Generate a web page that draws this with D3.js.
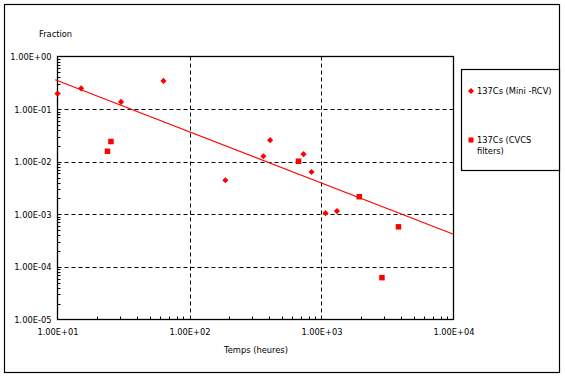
<!DOCTYPE html>
<html><head><meta charset="utf-8">
<script src="https://cdn.jsdelivr.net/npm/d3@7"></script>
<style>body{margin:0;background:#fff;} text{font-family:"DejaVu Sans",Arial,sans-serif;}</style>
</head><body><svg id="c" width="565" height="377"></svg>
<script>
// Data
const miniRcvX = [10, 15.1, 30.3, 63.5, 187, 363, 408, 731, 840, 1072, 1309];
const miniRcvY = [0.197, 0.248, 0.137, 0.344, 0.00443, 0.0127, 0.0257, 0.0139, 0.00638, 0.00105, 0.00115];
const cvcsX = [23.9, 25.4, 670, 1932, 3828, 2870];
const cvcsY = [0.0158, 0.0242, 0.0102, 0.00216, 0.000578, 0.0000625];
const trendX = [9.6, 10000];
const trendY = [0.36, 0.000419];
const xTicks = [10, 100, 1000, 10000];
const yTicks = [1, 0.1, 0.01, 0.001, 0.0001, 0.00001];
const xTickLabels = ["1.00E+01", "1.00E+02", "1.00E+03", "1.00E+04"];
const yTickLabels = ["1.00E+00", "1.00E-01", "1.00E-02", "1.00E-03", "1.00E-04", "1.00E-05"];
const seriesNames = ["137Cs (Mini -RCV)", "137Cs (CVCS", "filters)"];

const svg = d3.select("#c");
const L = 57.5, R = 453.5, T = 56.5, B = 319.5;
const x = d3.scaleLog().domain([10, 10000]).range([L, R]);
const y = d3.scaleLog().domain([0.00001, 1]).range([B, T]);
const red = "#ff0000";
const fs = "8.3px";

// outer frame
svg.append("rect").attr("x", 4.5).attr("y", 4.5).attr("width", 555).attr("height", 368)
  .attr("fill", "none").attr("stroke", "#000").attr("stroke-width", 1.2);

// grid
const g = svg.append("g");
g.selectAll("line.h").data(yTicks.slice(1, 5)).enter().append("line")
  .attr("x1", L).attr("x2", R).attr("y1", d => Math.round(y(d)) + 0.5).attr("y2", d => Math.round(y(d)) + 0.5)
  .attr("stroke", "#000").attr("stroke-dasharray", "4,3");
g.selectAll("line.v").data(xTicks.slice(1, 3)).enter().append("line")
  .attr("y1", T).attr("y2", B).attr("x1", d => Math.round(x(d)) + 0.5).attr("x2", d => Math.round(x(d)) + 0.5)
  .attr("stroke", "#000").attr("stroke-dasharray", "4,3");

// plot frame
svg.append("rect").attr("x", L).attr("y", T).attr("width", R - L).attr("height", B - T)
  .attr("fill", "none").attr("stroke", "#000").attr("stroke-width", 1.3);

// axes
const minorX = [];
for (let d = 10; d < 10000; d *= 10) for (let k = 2; k <= 9; k++) minorX.push(d * k);
const minorY = [];
for (let d = 0.00001; d < 0.9; d *= 10) for (let k = 2; k <= 9; k++) minorY.push(d * k);

const xAxis = d3.axisBottom(x).tickValues(xTicks).tickSize(0).tickFormat((d, i) => xTickLabels[i]);
const xa = svg.append("g").attr("transform", `translate(0,${B})`).call(xAxis);
xa.select(".domain").remove();
xa.selectAll("text").attr("dy", 0).attr("y", 15).attr("font-size", fs).attr("fill", "#000");
svg.append("g").selectAll("line").data(minorX).enter().append("line")
  .attr("x1", d => Math.round(x(d)) + 0.5).attr("x2", d => Math.round(x(d)) + 0.5)
  .attr("y1", B).attr("y2", B - 3).attr("stroke", "#000");

const yAxis = d3.axisLeft(y).tickValues(yTicks).tickSize(0).tickFormat((d, i) => yTickLabels[i]);
const ya = svg.append("g").attr("transform", `translate(${L},0)`).call(yAxis);
ya.select(".domain").remove();
ya.selectAll("text").attr("x", -6).attr("dy", "0.35em").attr("font-size", fs).attr("fill", "#000");
svg.append("g").selectAll("line").data(minorY).enter().append("line")
  .attr("y1", d => Math.round(y(d)) + 0.5).attr("y2", d => Math.round(y(d)) + 0.5)
  .attr("x1", L).attr("x2", L + 3).attr("stroke", "#000");

// trend line
const line = d3.line().x(d => x(d[0])).y(d => y(d[1]));
svg.append("path").datum(trendX.map((v, i) => [v, trendY[i]])).attr("d", line)
  .attr("fill", "none").attr("stroke", red).attr("stroke-width", 1.1);

// markers
const diamond = d3.symbol().type(d3.symbolDiamond2).size(24);
svg.append("g").selectAll("path").data(miniRcvX.map((v, i) => [v, miniRcvY[i]])).enter().append("path")
  .attr("d", diamond).attr("transform", d => `translate(${x(d[0])},${y(d[1])})`).attr("fill", red);
svg.append("g").selectAll("rect").data(cvcsX.map((v, i) => [v, cvcsY[i]])).enter().append("rect")
  .attr("x", d => x(d[0]) - 2.75).attr("y", d => y(d[1]) - 2.75).attr("width", 5.5).attr("height", 5.5).attr("fill", red);

// titles
svg.append("text").attr("x", 39).attr("y", 37).attr("font-size", fs).text("Fraction");
svg.append("text").attr("x", 256).attr("y", 353).attr("text-anchor", "middle").attr("font-size", fs).text("Temps (heures)");

// legend
svg.append("rect").attr("x", 461.5).attr("y", 69.5).attr("width", 98).attr("height", 101)
  .attr("fill", "#fff").attr("stroke", "#000").attr("stroke-width", 1.2);
svg.append("path").attr("d", diamond).attr("transform", "translate(471,91)").attr("fill", red);
svg.append("rect").attr("x", 468.5).attr("y", 137.5).attr("width", 5).attr("height", 5).attr("fill", red);
svg.append("text").attr("x", 477).attr("y", 94).attr("font-size", fs).text(seriesNames[0]);
svg.append("text").attr("x", 477).attr("y", 143).attr("font-size", fs).text(seriesNames[1]);
svg.append("text").attr("x", 477).attr("y", 154).attr("font-size", fs).text(seriesNames[2]);
</script></body></html>
